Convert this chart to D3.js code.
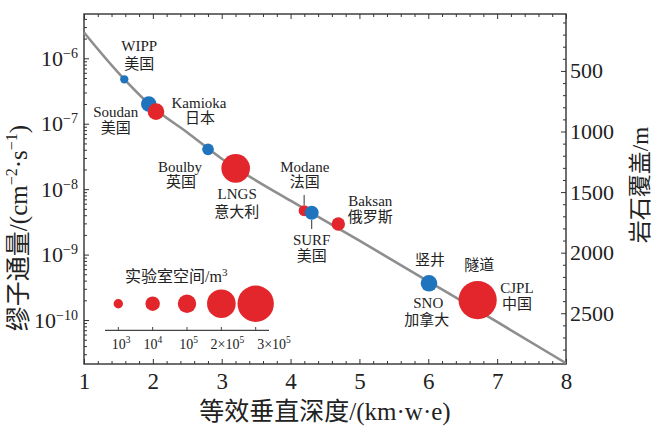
<!DOCTYPE html>
<html><head><meta charset="utf-8">
<script src="https://cdn.jsdelivr.net/npm/d3@7"></script>
<style>
body{margin:0;background:#fff}
svg text{font-family:"Liberation Serif","Times New Roman","Noto Sans CJK SC",serif;fill:#222}
</style></head><body><svg id="c" width="660" height="435"></svg>
<script>
// ---- data ----
const labNames   = ["WIPP","Soudan","Kamioka","Boulby","LNGS","Modane","SURF","Baksan","SNO","CJPL"];
const labCountry = ["美国","美国","日本","英国","意大利","法国","美国","俄罗斯","加拿大","中国"];
const labAccess  = ["竖井","竖井","隧道","竖井","隧道","隧道","竖井","隧道","竖井","隧道"];
const labDepth   = [1.585,1.940,2.046,2.801,3.203,4.197,4.307,4.693,6.010,6.717];      // km.w.e
const labFlux    = [4.78e-7,2.00e-7,1.53e-7,4.06e-8,2.08e-8,4.69e-9,4.37e-9,2.93e-9,3.64e-10,2.02e-10];
const labVolume  = [600,1.8e4,3.5e4,2.8e3,2.0e5,2.1e3,8.3e3,6.3e3,3.5e4,3.3e5];       // m^3

const curveDepth = [1,1.5,2,2.5,3,3.5,4,5,6,7,8];
const curveFlux  = [2.48e-6,6.0e-7,1.78e-7,7.35e-8,2.92e-8,1.355e-8,6.67e-9,1.63e-9,3.91e-10,9.35e-11,2.19e-11];

const xTicks = [1,2,3,4,5,6,7,8];
const yTicks = [1e-10,1e-9,1e-8,1e-7,1e-6];
const rockTicks = [500,1000,1500,2000,2500];
const legendVolumes = [1e3,1e4,1e5,2e5,3e5];
const legendRadii = [4.7,7.2,9.2,14.3,18.2];

// ---- layout ----
const L=84,R=566,T=14,B=364;
const svg=d3.select("#c");
const x=d3.scaleLinear().domain([1,8]).range([L,R]);
const y=d3.scaleLog().domain([2.128e-11,4.753e-6]).range([B,T]);
const yR=d3.scaleLinear().domain([30,2919]).range([T,B]);
const rScale=d3.scaleLog().domain(legendVolumes).range(legendRadii);
const color=d3.scaleOrdinal().domain(["竖井","隧道"]).range(["#1f74bd","#e2262b"]);

// label offsets (dx, dy for each line) relative to marker
const labelLayout = [
  [[15,-34],[15,-16]],
  [[-33,8],[-33,23.5]],
  [[43,-9],[44,6]],
  [[-28,17],[-27,32.5]],
  [[1.5,25],[1,43.5]],
  [[0.7,-44],[0.7,-28.5]],
  [[0,26.6],[0,43.3]],
  [[32,-23],[32,-7]],
  [[-0.7,19.4],[-2.3,36]],
  [[39.3,-12.7],[39.3,4]]
];
const legendLabelDx=[2.7,0.3,1.7,6,18.3];

// ---- axes ----
function styleAxis(g,fs){g.attr("font-family",null).attr("font-size",fs);g.select(".domain").remove();g.selectAll(".tick line").attr("stroke","#333").attr("stroke-width",1);}

const xMinor=d3.range(1,8.0001,0.2).filter(v=>Math.abs(v-Math.round(v))>1e-6);
svg.append("g").attr("transform",`translate(0,${B})`)
  .call(d3.axisBottom(x).tickValues(xMinor).tickSizeInner(-3).tickSizeOuter(0).tickFormat(""))
  .call(g=>styleAxis(g,10));
svg.append("g").attr("transform",`translate(0,${B})`)
  .call(d3.axisBottom(x).tickValues(xTicks).tickSizeInner(-5).tickSizeOuter(0).tickPadding(9).tickFormat(d3.format("d")))
  .call(g=>styleAxis(g,23));
svg.append("g").attr("transform",`translate(0,${T})`)
  .call(d3.axisTop(x).tickValues(xMinor).tickSizeInner(-3).tickSizeOuter(0).tickFormat(""))
  .call(g=>styleAxis(g,10));
svg.append("g").attr("transform",`translate(0,${T})`)
  .call(d3.axisTop(x).tickValues(xTicks).tickSizeInner(-5).tickSizeOuter(0).tickFormat(""))
  .call(g=>styleAxis(g,10));

const yMinor=[];
for(let e=-11;e<=-6;e++)for(let k=2;k<=9;k++){const v=k*Math.pow(10,e);if(v>=y.domain()[0]&&v<=y.domain()[1])yMinor.push(v);}
svg.append("g").attr("transform",`translate(${L},0)`)
  .call(d3.axisLeft(y).tickValues(yMinor).tickSizeInner(-3).tickSizeOuter(0).tickFormat(""))
  .call(g=>styleAxis(g,10));
svg.append("g").attr("transform",`translate(${L},0)`)
  .call(d3.axisLeft(y).tickValues(yTicks).tickSizeInner(-5).tickSizeOuter(0).tickPadding(6))
  .call(g=>styleAxis(g,22))
  .call(g=>g.selectAll(".tick text").each(function(d){
     const t=d3.select(this).text(null);
     t.append("tspan").text("10");
     t.append("tspan").attr("font-size",14).attr("dy",-8).text("−"+Math.round(-Math.log10(d)));
  }));

const rMinor=d3.range(100,2919,100).filter(v=>v%500!==0);
svg.append("g").attr("transform",`translate(${R},0)`)
  .call(d3.axisRight(yR).tickValues(rMinor).tickSizeInner(-3).tickSizeOuter(0).tickFormat(""))
  .call(g=>styleAxis(g,10));
svg.append("g").attr("transform",`translate(${R},0)`)
  .call(d3.axisRight(yR).tickValues(rockTicks).tickSizeInner(-5).tickSizeOuter(0).tickPadding(4).tickFormat(d3.format("d")))
  .call(g=>styleAxis(g,22));

svg.append("rect").attr("x",L).attr("y",T).attr("width",R-L).attr("height",B-T)
  .attr("fill","none").attr("stroke","#333").attr("stroke-width",1.4);

// axis titles
svg.append("text").attr("x",(L+R)/2+0).attr("y",420).attr("text-anchor","middle").attr("font-size",25)
  .text("等效垂直深度/(km·w·e)");
const yl=svg.append("text").attr("transform","translate(27,228) rotate(-90)").attr("text-anchor","middle").attr("font-size",25);
yl.append("tspan").text("缪子通量/(cm");
yl.append("tspan").attr("font-size",16).attr("dy",-10).text("−2");
yl.append("tspan").attr("dy",10).text("·s");
yl.append("tspan").attr("font-size",16).attr("dy",-10).text("−1");
yl.append("tspan").attr("dy",10).text(")");
svg.append("text").attr("transform","translate(648,185) rotate(-90)").attr("text-anchor","middle").attr("font-size",23)
  .text("岩石覆盖/m");

// ---- curve ----
const curvePts=curveDepth.map((d,i)=>[d,curveFlux[i]]);
svg.append("path").datum(curvePts)
  .attr("d",d3.line().x(d=>x(d[0])).y(d=>y(d[1])).curve(d3.curveMonotoneX))
  .attr("fill","none").attr("stroke","#8e8e8e").attr("stroke-width",2.6);

// ---- labs ----
const labs=labNames.map((n,i)=>({n,c:labCountry[i],a:labAccess[i],d:labDepth[i],f:labFlux[i],v:labVolume[i],lay:labelLayout[i]}));
svg.append("g").selectAll("circle").data(labs).join("circle")
  .attr("cx",d=>x(d.d)).attr("cy",d=>y(d.f)).attr("r",d=>rScale(d.v)).attr("fill",d=>color(d.a));

const lg=svg.append("g").attr("font-size",15).attr("text-anchor","middle");
labs.forEach(d=>{
  const cx=x(d.d),cy=y(d.f);
  lg.append("text").attr("x",cx+d.lay[0][0]).attr("y",cy+d.lay[0][1]).attr("dy","0.35em").text(d.n);
  lg.append("text").attr("x",cx+d.lay[1][0]).attr("y",cy+d.lay[1][1]).attr("dy","0.35em").text(d.c);
});
// leader lines
function leader(name,a,b){const d=labs.find(l=>l.n===name);const cx=x(d.d),cy=y(d.f);
  svg.append("line").attr("x1",cx).attr("x2",cx).attr("y1",cy+a).attr("y2",cy+b).attr("stroke","#333").attr("stroke-width",1);}
leader("Modane",-5.7,-15.7);
leader("SURF",7.3,16.3);
// access-type annotations
[["SNO","竖井",1,-24],["CJPL","隧道",1.6,-35]].forEach(([n,t,dx,dy])=>{
  const d=labs.find(l=>l.n===n);
  lg.append("text").attr("x",x(d.d)+dx).attr("y",y(d.f)+dy).attr("dy","0.35em").text(t);
});

// ---- legend ----
const lx=d3.scalePoint().domain(legendVolumes).range([118.3,255.7]);
const leg=svg.append("g");
leg.append("text").attr("x",125).attr("y",276).attr("dy","0.35em").attr("font-size",16).text("实验室空间/m")
  .append("tspan").attr("font-size",11).attr("dy",-6).text("3");
leg.selectAll("circle").data(legendVolumes).join("circle")
  .attr("cx",d=>lx(d)).attr("cy",303.7).attr("r",d=>rScale(d)).attr("fill",color("隧道"));
leg.append("line").attr("x1",105).attr("x2",269).attr("y1",330.3).attr("y2",330.3).attr("stroke","#444").attr("stroke-width",1.2);
leg.selectAll("line.t").data(legendVolumes).join("line").attr("class","t")
  .attr("x1",d=>lx(d)).attr("x2",d=>lx(d)).attr("y1",327).attr("y2",330.3).attr("stroke","#444");
leg.selectAll("text.l").data(legendVolumes).join("text").attr("class","l")
  .attr("x",(d,i)=>lx(d)+legendLabelDx[i]).attr("y",344).attr("dy","0.35em").attr("text-anchor","middle").attr("font-size",14)
  .each(function(v){
    const e=Math.floor(Math.log10(v)), m=Math.round(v/Math.pow(10,e));
    const t=d3.select(this);
    t.append("tspan").text((m>1?m+"×":"")+"10");
    t.append("tspan").attr("font-size",9.5).attr("dy",-6).text(e);
  });
</script></body></html>
